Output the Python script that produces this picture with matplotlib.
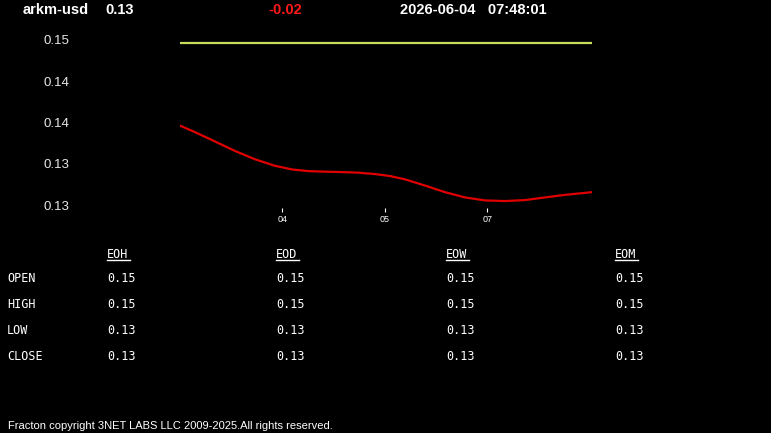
import matplotlib
matplotlib.use("Agg")
import matplotlib.pyplot as plt
from matplotlib.lines import Line2D

# header
symbol = "arkm-usd"
last_price = "0.13"
change = "-0.02"
stamp = "2026-06-04   07:48:01"

# price curve (x in tick units)
curve_x = [0.000, 0.146, 0.341, 0.537, 0.732, 0.927, 1.093, 1.249, 1.415, 1.580, 1.737,
           1.902, 2.049, 2.195, 2.390, 2.585, 2.780, 2.976, 3.171, 3.366, 3.561, 3.756, 4.020]
curve_y = [0.13962, 0.13883, 0.13770, 0.13655, 0.13554, 0.13475, 0.13431, 0.13411, 0.13404,
           0.13399, 0.13392, 0.13375, 0.13351, 0.13311, 0.13236, 0.13156, 0.13092, 0.13056,
           0.13048, 0.13060, 0.13092, 0.13123, 0.13156]
ref_x = [0.0, 4.02]
ref_y = [0.14964, 0.14964]

xtick_pos = [1, 2, 3]
xtick_labels = ["04", "05", "07"]
ytick_pos = [0.150, 0.145, 0.140, 0.135, 0.130]
ytick_labels = ["0.15", "0.14", "0.14", "0.13", "0.13"]

# OHLC table
row_names = ["OPEN", "HIGH", "LOW", "CLOSE"]
col_names = ["EOH", "EOD", "EOW", "EOM"]
eoh = ["0.15", "0.15", "0.13", "0.13"]
eod = ["0.15", "0.15", "0.13", "0.13"]
eow = ["0.15", "0.15", "0.13", "0.13"]
eom = ["0.15", "0.15", "0.13", "0.13"]

W, H = 771, 433
fig = plt.figure(figsize=(W / 100, H / 100), dpi=100, facecolor="black")
plt.rcParams["font.family"] = ["Liberation Sans", "DejaVu Sans"]


def fx(px):
    return px / W


def fy(py):
    return 1 - py / H


# chart area: x 180..592 px, y 30..208 px
ax = fig.add_axes([fx(180), fy(208), fx(592) - fx(180), (208 - 30) / H])
ax.set_facecolor("black")
ax.plot(ref_x, ref_y, color="#c9dc5c", lw=1.6, solid_capstyle="butt")
ax.plot(curve_x, curve_y, color="#e00000", lw=1.6)
ax.set_xlim(0, 4.02)
ax.set_ylim(0.12964, 0.15120)
for s in ax.spines.values():
    s.set_visible(False)
ax.set_xticks(xtick_pos)
ax.set_xticklabels(xtick_labels, fontsize=6.5, color="white")
ax.tick_params(axis="x", colors="white", length=3, width=0.8, pad=2)
ax.set_yticks(ytick_pos)
ax.set_yticklabels(ytick_labels, fontsize=9.5, color="#e8e8e8")
ax.tick_params(axis="y", length=0, pad=80)

# header texts
fig.text(fx(23), fy(10), symbol, fontsize=10.5, fontweight="bold", color="white", va="center")
fig.text(fx(105), fy(10), last_price, fontsize=10.5, fontweight="bold", color="white", va="center")
fig.text(fx(285), fy(10), change, fontsize=10.5, fontweight="bold", color="#ff1a1a", va="center", ha="center")
fig.text(fx(400), fy(10), stamp, fontsize=10.5, fontweight="bold", color="white", va="center")

# table
mono = "DejaVu Sans Mono"
col_x = [107, 276, 446, 615]
row_y = [279, 304, 330, 356]
cols = [eoh, eod, eow, eom]
for name, y in zip(row_names, row_y):
    fig.text(fx(7), fy(y), name, family=mono, fontsize=8.5, color="white", va="center")
for cx, cname, vals in zip(col_x, col_names, cols):
    fig.text(fx(cx), fy(254), cname, family=mono, fontsize=8.5, color="white", va="center")
    fig.add_artist(Line2D([fx(cx), fx(cx + 23)], [fy(259.5), fy(259.5)],
                          transform=fig.transFigure, color="white", lw=1))
    for v, y in zip(vals, row_y):
        fig.text(fx(cx), fy(y), v, family=mono, fontsize=8.5, color="white", va="center")

fig.text(fx(8), fy(426), "Fracton copyright 3NET LABS LLC 2009-2025.All rights reserved.",
         fontsize=8, color="white", va="center")

fig.savefig("out.png", dpi=100, facecolor="black")
